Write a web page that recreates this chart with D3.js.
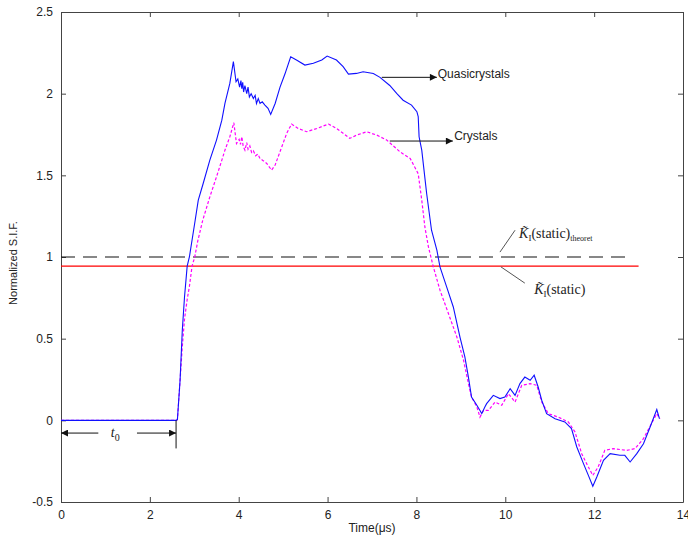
<!DOCTYPE html>
<html>
<head>
<meta charset="utf-8">
<script src="https://cdn.jsdelivr.net/npm/d3@7"></script>
<style>
  body { margin: 0; background: #fff; }
  .axis text { font-family: "Liberation Sans", Arial, sans-serif; font-size: 12px; fill: #222; }
  .axis path, .axis line { stroke: #444; }
  .lbl { font-family: "Liberation Sans", Arial, sans-serif; font-size: 12px; fill: #222; }
  .serif { font-family: "Liberation Serif", "Times New Roman", serif; fill: #222; }
</style>
</head>
<body>
<svg id="chart"></svg>
<script>
// x values in microseconds, y values normalized S.I.F.
const quasiX = [0, 2.59, 2.62, 2.68, 2.73, 2.78, 2.84, 2.89, 3.02, 3.09, 3.20, 3.35, 3.50, 3.62, 3.69, 3.80, 3.88,
  3.94, 3.98, 4.02, 4.05, 4.07, 4.09, 4.11, 4.14, 4.18, 4.21, 4.24, 4.28, 4.33, 4.37, 4.40, 4.44, 4.48, 4.53, 4.59,
  4.66, 4.72, 4.82, 4.93, 5.04, 5.17, 5.30, 5.49,
  5.68, 5.87, 5.99, 6.20, 6.35, 6.47, 6.65, 6.80, 7.03, 7.18, 7.40, 7.56, 7.70, 7.89, 8.01, 8.04, 8.06, 8.12, 8.23,
  8.34, 8.46, 8.53, 8.68, 8.83, 8.98, 9.09, 9.17, 9.24, 9.36, 9.43, 9.47, 9.54, 9.58, 9.73, 9.88, 9.99, 10.11, 10.22,
  10.33, 10.44, 10.56, 10.65, 10.74, 10.82, 10.93, 11.12, 11.34, 11.49, 11.61, 11.76, 11.87, 11.97, 12.06, 12.21,
  12.36, 12.58, 12.69, 12.81, 12.96, 13.11, 13.26, 13.41, 13.47];
const quasiY = [0, 0, 0.004, 0.245, 0.55, 0.755, 0.944, 1.0, 1.225, 1.348, 1.45, 1.593, 1.716, 1.838, 1.94, 2.063, 2.196,
  2.073, 2.09, 2.04, 2.08, 2.03, 2.07, 2.01, 2.05, 2.00, 2.04, 1.98, 2.00, 1.97, 1.99, 1.94, 1.97, 1.94, 1.95, 1.93,
  1.91, 1.873, 1.94, 2.04, 2.12, 2.226, 2.206, 2.175,
  2.186, 2.206, 2.23, 2.206, 2.165, 2.12, 2.124, 2.134, 2.124, 2.10, 2.05, 2.0, 1.96, 1.93, 1.89, 1.86, 1.736, 1.654, 1.389,
  1.164, 1.042, 0.94, 0.817, 0.694, 0.51, 0.388, 0.265, 0.143, 0.092, 0.06, 0.041, 0.082, 0.102, 0.153, 0.133, 0.143,
  0.194, 0.153, 0.225, 0.265, 0.245, 0.276, 0.204, 0.123, 0.041, 0.010, -0.01, -0.051, -0.163, -0.265, -0.337, -0.404,
  -0.347, -0.245, -0.204, -0.214, -0.214, -0.255, -0.204, -0.143, -0.041, 0.066, 0.01];

const crystX = [0, 2.59, 2.62, 2.68, 2.73, 2.78, 2.84, 2.89, 2.95, 3.01, 3.08, 3.19, 3.35, 3.50, 3.62, 3.69, 3.80, 3.89,
  3.95, 4.01, 4.04, 4.07, 4.10, 4.14, 4.18, 4.21, 4.25, 4.29, 4.33, 4.38, 4.43, 4.48, 4.55, 4.63, 4.74, 4.82, 4.97, 5.08,
  5.19, 5.34, 5.53, 5.76, 6.02, 6.20, 6.35,
  6.50, 6.65, 6.88, 7.11, 7.33, 7.63, 7.86, 8.04, 8.12, 8.19, 8.27, 8.38, 8.53, 8.72, 8.91, 9.06, 9.17, 9.24, 9.36,
  9.43, 9.51, 9.62, 9.77, 9.92, 10.07, 10.22, 10.37, 10.56, 10.71, 10.82, 10.97, 11.19, 11.42, 11.57, 11.72, 11.87,
  11.97, 12.09, 12.24, 12.43, 12.73, 12.92, 13.11, 13.29, 13.41, 13.48];
const crystY = [0, 0, 0.004, 0.245, 0.45, 0.62, 0.74, 0.82, 0.944, 1.0, 1.10, 1.225, 1.368, 1.491, 1.593, 1.654, 1.736, 1.822,
  1.695, 1.72, 1.69, 1.736, 1.68, 1.654, 1.70, 1.66, 1.68, 1.64, 1.65, 1.62, 1.63, 1.603, 1.59, 1.573, 1.532, 1.563,
  1.675, 1.757, 1.814, 1.787, 1.767, 1.787, 1.814, 1.787, 1.757,
  1.726, 1.746, 1.767, 1.746, 1.716, 1.644, 1.603, 1.51, 1.348, 1.184, 1.062, 0.94, 0.797, 0.654,
  0.51, 0.368, 0.225, 0.143, 0.082, 0.02, 0.061, 0.061, 0.112, 0.092, 0.163, 0.112, 0.214, 0.225, 0.214, 0.112, 0.041,
  0.02, -0.01, -0.072, -0.204, -0.286, -0.337, -0.286, -0.184, -0.173, -0.184, -0.173, -0.112, -0.02, 0.041, 0.01];

const xTicks = [0, 2, 4, 6, 8, 10, 12, 14];
const yTicks = [-0.5, 0, 0.5, 1, 1.5, 2, 2.5];
const theoretLevel = 1.0, theoretEnd = 12.85;
const staticLevel = 0.944, staticEnd = 13.0;
const t0 = 2.59;

class SifChart {
  constructor(_config) {
    this.config = {
      parentElement: _config.parentElement,
      containerWidth: 688,
      containerHeight: 542,
      margin: { top: 12, bottom: 40, right: 5, left: 61 }
    };
    this.initVis();
  }

  initVis() {
    let vis = this;
    vis.width = vis.config.containerWidth - vis.config.margin.left - vis.config.margin.right;
    vis.height = vis.config.containerHeight - vis.config.margin.top - vis.config.margin.bottom;

    vis.xScale = d3.scaleLinear().domain([0, 14]).range([0, vis.width]);
    vis.yScale = d3.scaleLinear().domain([-0.5, 2.5]).range([vis.height, 0]);

    vis.svg = d3.select(vis.config.parentElement)
        .attr('width', vis.config.containerWidth)
        .attr('height', vis.config.containerHeight);

    vis.svg.append('defs').append('marker')
        .attr('id', 'arrow')
        .attr('viewBox', '0 0 10 10')
        .attr('refX', 10).attr('refY', 5)
        .attr('markerWidth', 9).attr('markerHeight', 7)
        .attr('markerUnits', 'userSpaceOnUse')
        .attr('orient', 'auto-start-reverse')
      .append('path')
        .attr('d', 'M0,0L10,5L0,10Z')
        .attr('fill', '#111');

    vis.chart = vis.svg.append('g')
        .attr('transform', `translate(${vis.config.margin.left},${vis.config.margin.top})`);

    const fmt = d => String(d);

    // frame with ticks on all sides, pointing in
    vis.chart.append('g').attr('class', 'axis')
        .attr('transform', `translate(0,${vis.height})`)
        .call(d3.axisBottom(vis.xScale).tickValues(xTicks).tickSize(-5).tickPadding(8).tickSizeOuter(0).tickFormat(fmt));
    vis.chart.append('g').attr('class', 'axis')
        .call(d3.axisTop(vis.xScale).tickValues(xTicks).tickSize(-5).tickFormat('').tickSizeOuter(0));
    vis.chart.append('g').attr('class', 'axis')
        .call(d3.axisLeft(vis.yScale).tickValues(yTicks).tickSize(-5).tickPadding(8).tickSizeOuter(0).tickFormat(fmt));
    vis.chart.append('g').attr('class', 'axis')
        .attr('transform', `translate(${vis.width},0)`)
        .call(d3.axisRight(vis.yScale).tickValues(yTicks).tickSize(-5).tickFormat('').tickSizeOuter(0));

    vis.chart.append('text').attr('class', 'lbl')
        .attr('x', vis.width / 2).attr('y', vis.height + 30)
        .attr('text-anchor', 'middle')
        .text('Time(μs)');
    vis.chart.append('text').attr('class', 'lbl')
        .attr('transform', `translate(${-44},${vis.height / 2 + 6}) rotate(-90)`)
        .attr('text-anchor', 'middle')
        .style('font-size', '11px')
        .text('Normalized S.I.F.');

    vis.marks = vis.chart.append('g');
    vis.renderVis();
  }

  renderVis() {
    let vis = this;
    const x = vis.xScale, y = vis.yScale;
    const line = d3.line().x(d => x(d[0])).y(d => y(d[1]));

    // reference levels
    vis.marks.append('path')
        .attr('d', line([[0, theoretLevel], [theoretEnd, theoretLevel]]))
        .attr('stroke', '#111').attr('stroke-width', 1.1)
        .attr('stroke-dasharray', '14,8').attr('fill', 'none');
    vis.marks.append('path')
        .attr('d', line([[0, staticLevel], [staticEnd, staticLevel]]))
        .attr('stroke', '#f00').attr('stroke-width', 1.1).attr('fill', 'none');

    const crystals = crystX.map((v, i) => [v, crystY[i]]);
    const quasi = quasiX.map((v, i) => [v, quasiY[i]]);

    vis.marks.append('path')
        .attr('d', line(crystals))
        .attr('stroke', '#ff00ff').attr('stroke-width', 1.2)
        .attr('stroke-dasharray', '3,2').attr('fill', 'none');
    vis.marks.append('path')
        .attr('d', line(quasi))
        .attr('stroke', '#1010ff').attr('stroke-width', 1.1).attr('fill', 'none');

    // annotations
    const ann = vis.chart.append('g');
    const arrow = (x1, y1, x2, y2) => ann.append('line')
        .attr('x1', x(x1)).attr('y1', y(y1)).attr('x2', x(x2)).attr('y2', y(y2))
        .attr('stroke', '#111').attr('stroke-width', 1)
        .attr('marker-end', 'url(#arrow)');

    arrow(7.22, 2.10, 8.46, 2.10);
    ann.append('text').attr('class', 'lbl')
        .attr('x', x(8.48)).attr('y', y(2.10) + 1).text('Quasicrystals');
    arrow(7.40, 1.71, 8.82, 1.71);
    ann.append('text').attr('class', 'lbl')
        .attr('x', x(8.85)).attr('y', y(1.71) - 1).text('Crystals');

    // leader lines to the level labels
    ann.append('line')
        .attr('x1', x(9.88)).attr('y1', y(1.03)).attr('x2', x(10.22)).attr('y2', y(1.164))
        .attr('stroke', '#555');
    const tl = ann.append('text').attr('class', 'serif')
        .attr('x', x(10.31)).attr('y', y(1.115)).style('font-size', '14px');
    tl.append('tspan').style('font-style', 'italic').text('K̃');
    tl.append('tspan').attr('dy', 3).style('font-size', '9px').text('I');
    tl.append('tspan').attr('dy', -3).text('(static)');
    tl.append('tspan').attr('dy', 3).style('font-size', '8px').text('theoret');

    ann.append('line')
        .attr('x1', x(9.90)).attr('y1', y(0.94)).attr('x2', x(10.44)).attr('y2', y(0.84))
        .attr('stroke', '#555');
    const sl = ann.append('text').attr('class', 'serif')
        .attr('x', x(10.65)).attr('y', y(0.772)).style('font-size', '14px');
    sl.append('tspan').style('font-style', 'italic').text('K̃');
    sl.append('tspan').attr('dy', 3).style('font-size', '9px').text('I');
    sl.append('tspan').attr('dy', -3).text('(static)');

    // t0 span
    ann.append('line')
        .attr('x1', x(t0)).attr('y1', y(0)).attr('x2', x(t0)).attr('y2', y(-0.172))
        .attr('stroke', '#111');
    arrow(0.84, -0.078, 0, -0.078);
    arrow(1.71, -0.078, t0, -0.078);
    const tt = ann.append('text').attr('class', 'serif')
        .attr('x', x(1.22)).attr('y', y(-0.078) + 4).attr('text-anchor', 'middle')
        .style('font-size', '14px');
    tt.append('tspan').style('font-style', 'italic').text('t');
    tt.append('tspan').attr('dy', 4).style('font-size', '10px').text('0');
  }
}

new SifChart({ parentElement: '#chart' });
</script>
</body>
</html>
